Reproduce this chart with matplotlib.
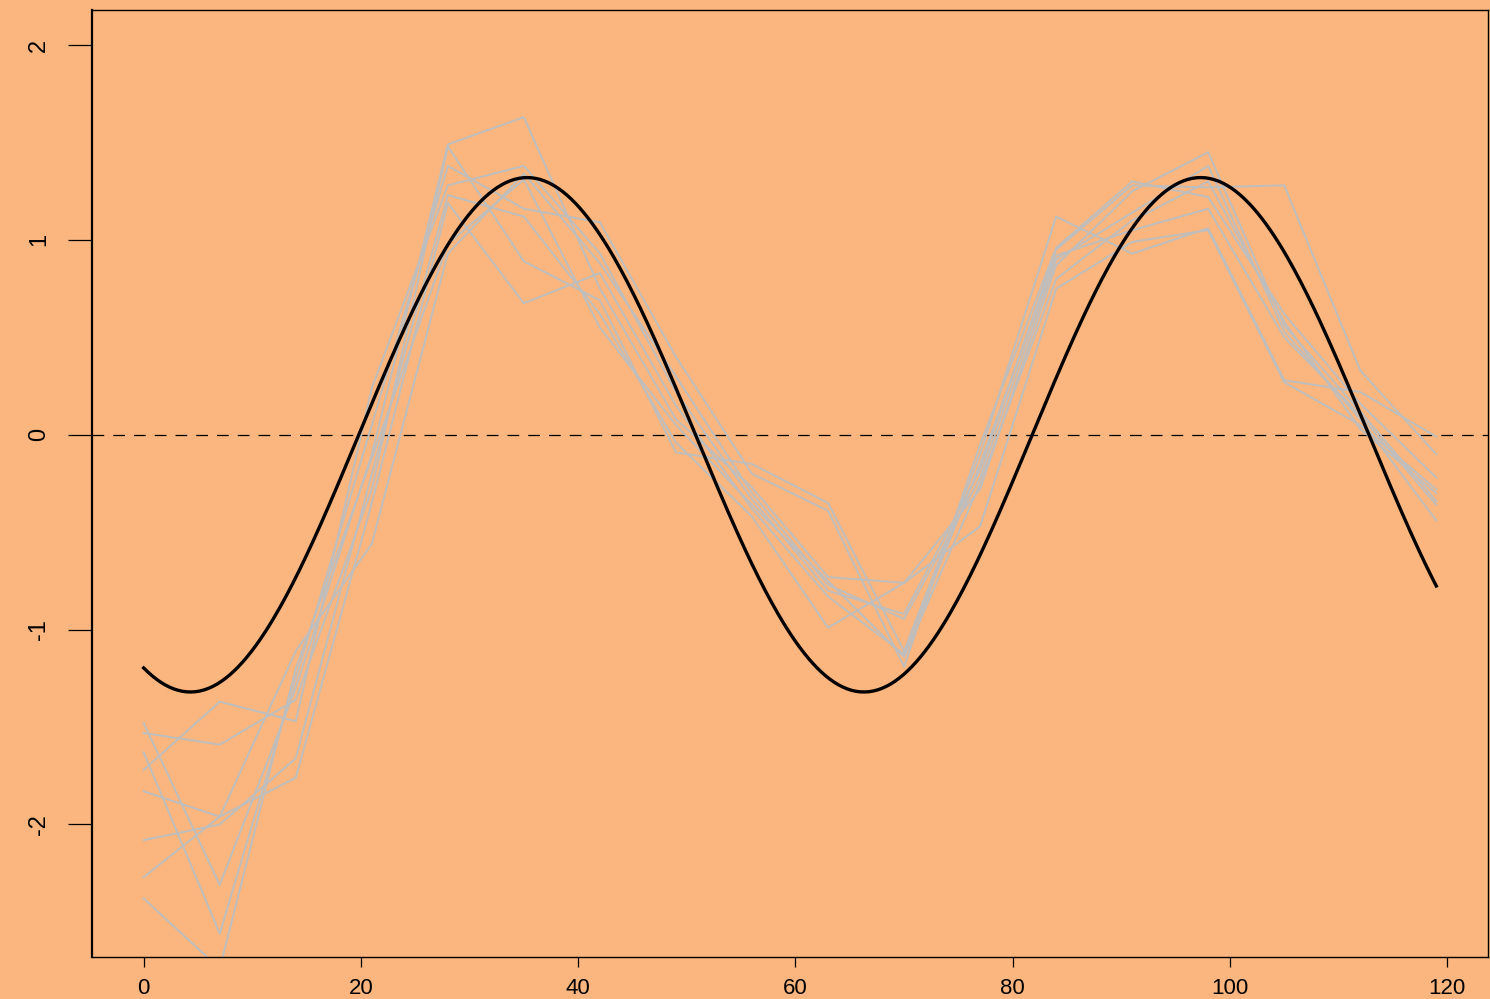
import matplotlib
matplotlib.use("Agg")
import matplotlib.pyplot as plt
import numpy as np

# sample positions of the grey runs
x_obs = [0, 7, 14, 21, 28, 35, 42, 49, 56, 63, 70, 77, 84, 91, 98, 105, 112, 119]

# eight grey runs
run1 = [-1.48, -2.31, -1.30, -0.10, 1.49, 1.63, 0.75, 0.08, -0.27, -0.73, -0.76, -0.28, 0.87, 1.25, 1.45, 0.56, 0.12, -0.34]
run2 = [-1.53, -1.59, -1.36, -0.28, 1.48, 0.89, 0.69, -0.09, -0.15, -0.35, -1.11, -0.10, 1.12, 0.93, 1.06, 0.28, 0.22, -0.01]
run3 = [-1.63, -2.56, -1.25, 0.05, 1.38, 1.16, 1.09, 0.40, -0.20, -0.39, -1.19, -0.05, 0.96, 1.30, 1.22, 0.62, 0.16, -0.22]
run4 = [-1.72, -1.37, -1.47, 0.24, 1.28, 1.38, 0.93, 0.22, -0.33, -0.80, -0.92, -0.18, 0.95, 1.28, 1.27, 1.28, 0.33, -0.10]
run5 = [-1.83, -1.96, -1.11, -0.56, 0.93, 1.34, 0.88, 0.30, -0.30, -0.77, -0.945, -0.22, 0.90, 1.14, 1.38, 0.53, 0.08, -0.44]
run6 = [-2.08, -2.00, -1.66, -0.20, 1.23, 1.12, 0.62, -0.04, -0.42, -0.99, -0.76, -0.47, 0.75, 0.99, 1.05, 0.27, 0.05, -0.28]
run7 = [-2.27, -1.96, -1.76, -0.35, 1.19, 0.675, 0.83, 0.15, -0.38, -0.83, -1.125, -0.15, 0.92, 1.05, 1.16, 0.50, 0.10, -0.36]
run8 = [-2.38, -2.74, -1.20, -0.12, 0.98, 1.31, 0.55, 0.05, -0.36, -0.75, -1.14, -0.25, 0.80, 1.10, 1.30, 0.58, 0.03, -0.30]
runs = [run1, run2, run3, run4, run5, run6, run7, run8]

# fitted sine (black), parameters
amp = 1.32
period = 62.0
zero_at = 19.8
x_start, x_end = 0, 119

xticks = [0, 20, 40, 60, 80, 100, 120]
yticks = [-2, -1, 0, 1, 2]

bg = "#FAB67E"
plt.rcParams["font.family"] = ["Liberation Sans", "DejaVu Sans"]

fig = plt.figure(figsize=(14.9, 9.99), dpi=100, facecolor=bg)
ax = fig.add_axes([92 / 1490, 42 / 999, 1396 / 1490, 947 / 999])
ax.set_facecolor(bg)

for r in runs:
    ax.plot(x_obs, r, color="#BEBEBE", lw=1.4, zorder=2)

xs = np.linspace(x_start, x_end, 600)
ax.plot(xs, amp * np.sin(2 * np.pi * (xs - zero_at) / period), color="black", lw=2.4, zorder=3)

ax.axhline(0, color="black", lw=0.9, linestyle=(0, (9.4, 7.2)), zorder=1)

ax.set_xlim(-4.76, 123.76)
ax.set_ylim(-2.68, 2.18)
ax.set_xticks(xticks)
ax.set_yticks(yticks)
ax.set_xticklabels([str(t) for t in xticks], fontsize=16)
ax.set_yticklabels([str(t) for t in yticks], fontsize=17, rotation=90, va="center")
ax.tick_params(axis="x", length=7.2, width=0.9, pad=8)
ax.tick_params(axis="y", length=17, width=0.9, pad=13)
for s in ax.spines.values():
    s.set_linewidth(1.0)
ax.spines["left"].set_linewidth(1.6)

fig.savefig("out.png", dpi=100, facecolor=bg)
